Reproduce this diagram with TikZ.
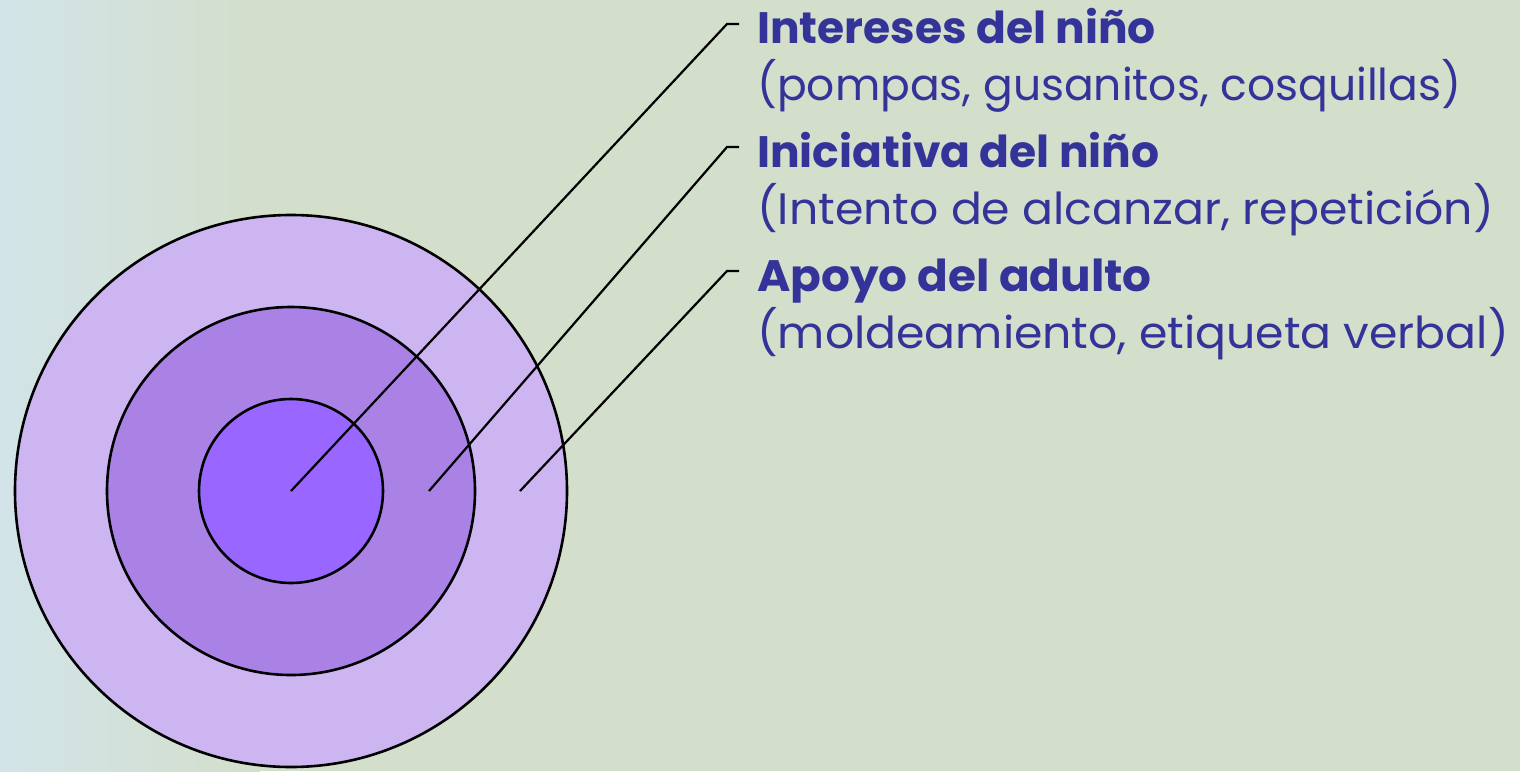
\documentclass[tikz,border=0pt]{standalone}
\usepackage{fontspec}
\setmainfont{Poppins}
\definecolor{bgA}{HTML}{D3DECB}
\definecolor{bgL}{HTML}{D2E4E8}
\definecolor{ringOut}{HTML}{CDB5F2}
\definecolor{ringMid}{HTML}{AA82E6}
\definecolor{ringIn}{HTML}{9966FF}
\definecolor{txt}{HTML}{333399}
\tikzset{
  ring/.style={circle, draw=black, line width=2.6pt, inner sep=0pt},
  callout/.style={draw=black, line width=2.2pt},
  headtxt/.style={anchor=base west, inner sep=0pt, text=txt, font=\fontsize{44}{50}\selectfont\bfseries},
  subtxt/.style={anchor=base west, inner sep=0pt, text=txt, font=\fontsize{44}{50}\selectfont},
}
\begin{document}
\begin{tikzpicture}[x=1pt,y=-1pt]
\useasboundingbox (0,0) rectangle (1520,771);
\fill[bgA] (0,0) rectangle (1520,771);
\shade[left color=bgL, right color=bgA] (0,0) rectangle (260,771);
\node[ring, fill=ringOut, minimum size=552pt] (outer) at (291,491) {};
\node[ring, fill=ringMid, minimum size=368pt] (mid) at (291,491) {};
\node[ring, fill=ringIn, minimum size=184pt] (inner) at (291,491) {};
\coordinate (s1) at (291,491);
\coordinate (s2) at (429,491);
\coordinate (s3) at (520,491);
\coordinate (k1) at (727,24);
\coordinate (k2) at (727,147);
\coordinate (k3) at (727,271);
\coordinate (h1) at (739,24);
\coordinate (h2) at (739,147);
\coordinate (h3) at (739,271);
\draw[callout] (s1) -- (k1) -- (h1);
\draw[callout] (s2) -- (k2) -- (h2);
\draw[callout] (s3) -- (k3) -- (h3);
\node[headtxt] (t1) at (757,43) {Intereses del niño};
\node[subtxt] (d1) at (757,100) {(pompas, gusanitos, cosquillas)};
\node[headtxt] (t2) at (757,167) {Iniciativa del niño};
\node[subtxt] (d2) at (757,224) {\scalebox{1.04}[1]{(Intento de alcanzar, repetición)}};
\node[headtxt] (t3) at (757,291) {\scalebox{1.03}[1]{Apoyo del adulto}};
\node[subtxt] (d3) at (757,348) {\scalebox{1.04}[1]{(moldeamiento, etiqueta verbal)}};
\end{tikzpicture}
\end{document}
